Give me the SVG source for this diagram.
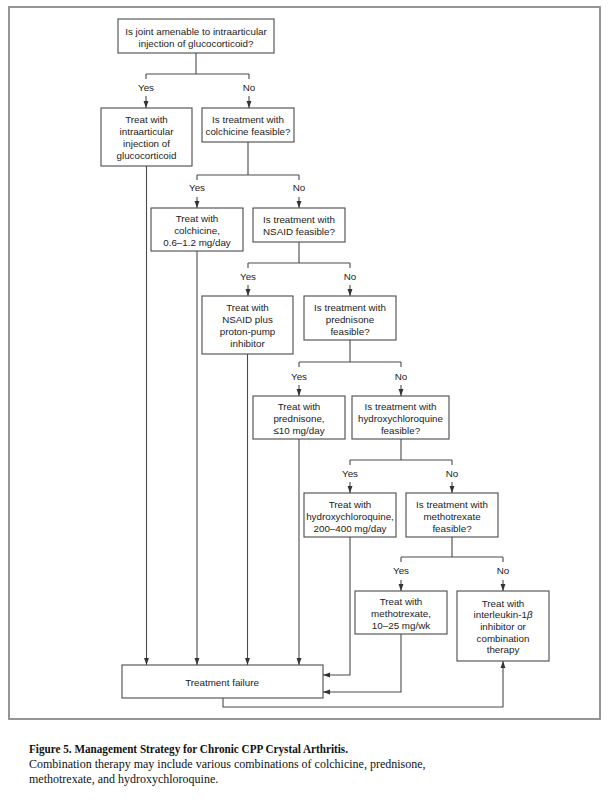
<svg xmlns="http://www.w3.org/2000/svg" width="615" height="800" viewBox="0 0 615 800">
<style>
.frame{fill:none;stroke:#8a8a8a;stroke-width:1.8}
.box rect{fill:#fff;stroke:#4a4a4a;stroke-width:1.1}
.box text,.lbl{font-family:"Liberation Sans",Arial,sans-serif;font-size:9.8px;fill:#222;text-anchor:middle}
.conn path{fill:none;stroke:#4a4a4a;stroke-width:1.1}
.arr{marker-end:url(#ah)}
.cap{font-family:"Liberation Serif","Times New Roman",serif;font-size:12px;fill:#111}
</style>
<defs>
<marker id="ah" viewBox="0 0 8 8" refX="8" refY="4" markerWidth="7" markerHeight="7" markerUnits="userSpaceOnUse" orient="auto">
<path d="M0,1.2 L8,4 L0,6.8 Z" fill="#333"/>
</marker>
</defs>
<rect width="615" height="800" fill="#fff"/>
<rect class="frame" x="9" y="7" width="591" height="712"/>

<g class="conn">
<path d="M196,53 V74 M146,74 H249 M146,74 V79 M249,74 V79"/>
<path class="arr" d="M146,96 V108"/>
<path class="arr" d="M249,96 V108"/>
<path d="M248,142 V175 M197,175 H299 M197,175 V180 M299,175 V180"/>
<path class="arr" d="M197,197 V208"/>
<path class="arr" d="M299,197 V208"/>
<path d="M299,242 V263 M248,263 H350 M248,263 V268 M350,263 V268"/>
<path class="arr" d="M248,285 V296"/>
<path class="arr" d="M350,285 V296"/>
<path d="M350,340 V362 M299,362 H401 M299,362 V367 M401,362 V367"/>
<path class="arr" d="M299,385 V396"/>
<path class="arr" d="M401,385 V396"/>
<path d="M401,439 V460 M350,460 H452 M350,460 V465 M452,460 V465"/>
<path class="arr" d="M350,482 V493"/>
<path class="arr" d="M452,482 V493"/>
<path d="M452,537 V557 M401,557 H503 M401,557 V562 M503,557 V562"/>
<path class="arr" d="M401,580 V591"/>
<path class="arr" d="M503,580 V591"/>
<path class="arr" d="M146.5,166 V665"/>
<path class="arr" d="M197,251 V665"/>
<path class="arr" d="M247.5,354 V665"/>
<path class="arr" d="M299,439 V665"/>
<path class="arr" d="M350,537 V675 H323"/>
<path class="arr" d="M401,634 V692 H323"/>
<path class="arr" d="M223,698 V707 H503 V661"/>
</g>

<g id="labels">
<text class="lbl" x="146" y="90.5">Yes</text>
<text class="lbl" x="249" y="90.5">No</text>
<text class="lbl" x="197" y="191">Yes</text>
<text class="lbl" x="299" y="191">No</text>
<text class="lbl" x="248" y="279.5">Yes</text>
<text class="lbl" x="350" y="279.5">No</text>
<text class="lbl" x="299" y="379.5">Yes</text>
<text class="lbl" x="401" y="379.5">No</text>
<text class="lbl" x="350" y="476.5">Yes</text>
<text class="lbl" x="452" y="476.5">No</text>
<text class="lbl" x="401" y="573.5">Yes</text>
<text class="lbl" x="503" y="573.5">No</text>
</g>

<g id="q1" class="box">
<rect x="118" y="19" width="156" height="34"/>
<text x="196" y="34.5">Is joint amenable to intraarticular</text>
<text x="196" y="46.5">injection of glucocorticoid?</text>
</g>
<g id="t1" class="box">
<rect x="101" y="108" width="91" height="58"/>
<text x="146.5" y="122.5">Treat with</text>
<text x="146.5" y="134.5">intraarticular</text>
<text x="146.5" y="146.5">injection of</text>
<text x="146.5" y="158.5">glucocorticoid</text>
</g>
<g id="q2" class="box">
<rect x="202" y="108" width="92" height="34"/>
<text x="248" y="122.5">Is treatment with</text>
<text x="248" y="134.5">colchicine feasible?</text>
</g>
<g id="t2" class="box">
<rect x="151" y="208" width="92" height="43"/>
<text x="197" y="221.5">Treat with</text>
<text x="197" y="233.5">colchicine,</text>
<text x="197" y="245.5">0.6–1.2 mg/day</text>
</g>
<g id="q3" class="box">
<rect x="253" y="208" width="92" height="34"/>
<text x="299" y="222.5">Is treatment with</text>
<text x="299" y="234.5">NSAID feasible?</text>
</g>
<g id="t3" class="box">
<rect x="202" y="296" width="91" height="58"/>
<text x="247.5" y="310.5">Treat with</text>
<text x="247.5" y="322.5">NSAID plus</text>
<text x="247.5" y="334.5">proton-pump</text>
<text x="247.5" y="346.5">inhibitor</text>
</g>
<g id="q4" class="box">
<rect x="304" y="296" width="92" height="44"/>
<text x="350" y="310.5">Is treatment with</text>
<text x="350" y="322.5">prednisone</text>
<text x="350" y="334.5">feasible?</text>
</g>
<g id="t4" class="box">
<rect x="253" y="396" width="92" height="43"/>
<text x="299" y="409.5">Treat with</text>
<text x="299" y="421.5">prednisone,</text>
<text x="299" y="433.5">≤10 mg/day</text>
</g>
<g id="q5" class="box">
<rect x="352" y="396" width="97" height="43"/>
<text x="400.5" y="409.5">Is treatment with</text>
<text x="400.5" y="421.5">hydroxychloroquine</text>
<text x="400.5" y="433.5">feasible?</text>
</g>
<g id="t5" class="box">
<rect x="304" y="493" width="92" height="44"/>
<text x="350" y="507.5">Treat with</text>
<text x="350" y="519.5">hydroxychloroquine,</text>
<text x="350" y="531.5">200–400 mg/day</text>
</g>
<g id="q6" class="box">
<rect x="406" y="493" width="92" height="44"/>
<text x="452" y="507.5">Is treatment with</text>
<text x="452" y="519.5">methotrexate</text>
<text x="452" y="531.5">feasible?</text>
</g>
<g id="t6" class="box">
<rect x="355" y="591" width="92" height="43"/>
<text x="401" y="604.5">Treat with</text>
<text x="401" y="616.5">methotrexate,</text>
<text x="401" y="628.5">10–25 mg/wk</text>
</g>
<g id="t7" class="box">
<rect x="457" y="591" width="92" height="70"/>
<text x="503" y="606.5">Treat with</text>
<text x="503" y="618.2">interleukin-1<tspan font-style="italic">β</tspan></text>
<text x="503" y="629.9">inhibitor or</text>
<text x="503" y="641.6">combination</text>
<text x="503" y="653.3">therapy</text>
</g>
<g id="fail" class="box">
<rect x="122" y="665" width="201" height="33"/>
<text x="222" y="685.5">Treatment failure</text>
</g>

<g id="caption">
<text class="cap" x="29" y="753" font-weight="bold" textLength="319" lengthAdjust="spacingAndGlyphs">Figure 5. Management Strategy for Chronic CPP Crystal Arthritis.</text>
<text class="cap" x="29" y="768">Combination therapy may include various combinations of colchicine, prednisone,</text>
<text class="cap" x="29" y="783">methotrexate, and hydroxychloroquine.</text>
</g>
</svg>
